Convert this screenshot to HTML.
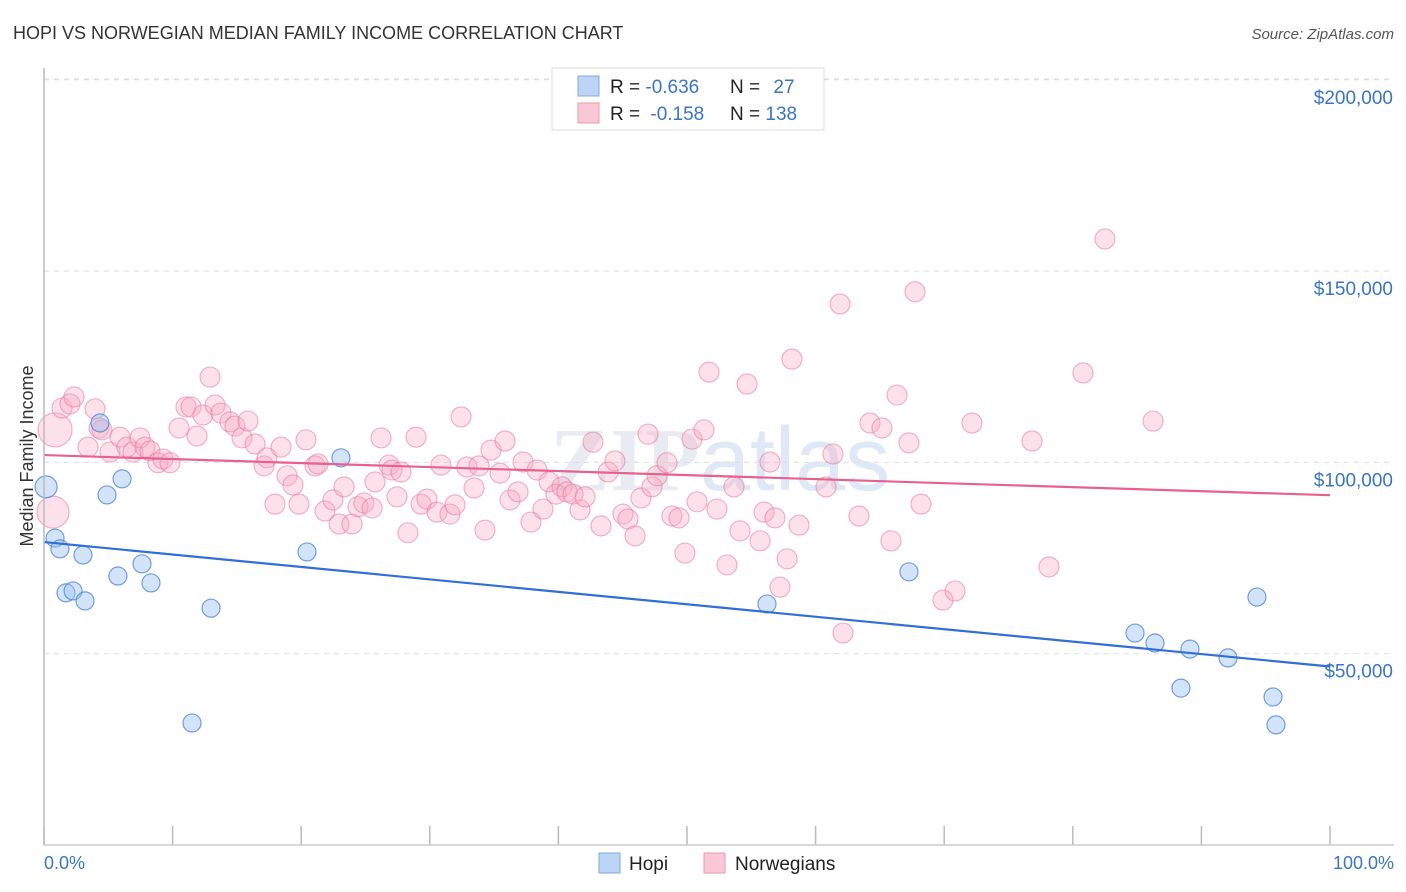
<!DOCTYPE html>
<html><head><meta charset="utf-8"><style>
body{margin:0;background:#fff;font-family:"Liberation Sans",sans-serif;}
#wrap{position:relative;width:1406px;height:892px;overflow:hidden;}
</style></head><body>
<div id="wrap">
<svg id="chart" width="1406" height="892">
<text x="13" y="39" font-size="18" fill="#333">HOPI VS NORWEGIAN MEDIAN FAMILY INCOME CORRELATION CHART</text>
<text x="1394" y="39" font-size="15" fill="#555" text-anchor="end" font-style="italic">Source: ZipAtlas.com</text>
<text x="33" y="456" font-size="18" fill="#333" text-anchor="middle" transform="rotate(-90 33 456)">Median Family Income</text>
<text x="720" y="490" font-size="90" fill="#e8ecf2" text-anchor="middle" font-family="Liberation Serif" font-weight="bold">ZIP<tspan fill="#dfe8f6" font-family="Liberation Sans" font-weight="normal">atlas</tspan></text>
<g id="grid"></g><g id="marks"></g>
<line x1="44" y1="68" x2="44" y2="845" stroke="#bbb" stroke-width="1.5"/>
<line x1="44" y1="845" x2="1394" y2="845" stroke="#ccc" stroke-width="1.5"/>
<text x="44" y="869" font-size="18" fill="#3a75c4">0.0%</text>
<text x="1394" y="869" font-size="18" fill="#3a75c4" text-anchor="end">100.0%</text>
<g>
<rect x="552" y="68" width="272" height="62" fill="#fff" stroke="#ddd"/>
<rect x="578" y="76" width="21" height="20" fill="#bcd5f5" stroke="#7fa9e0"/>
<rect x="578" y="103" width="21" height="20" fill="#f9c7d6" stroke="#ee97b1"/>
<text x="610" y="93" font-size="19" fill="#222">R = <tspan fill="#3a75c4">-0.636</tspan></text>
<text x="730" y="93" font-size="19" fill="#222">N = <tspan fill="#3a75c4" dx="8">27</tspan></text>
<text x="610" y="120" font-size="19" fill="#222">R = <tspan fill="#3a75c4" dx="5">-0.158</tspan></text>
<text x="730" y="120" font-size="19" fill="#222">N = <tspan fill="#3a75c4">138</tspan></text>
</g>
<g>
<rect x="599" y="853" width="21" height="20" fill="#bcd5f5" stroke="#7fa9e0"/>
<text x="629" y="870" font-size="19" fill="#222">Hopi</text>
<rect x="704" y="853" width="21" height="20" fill="#f9c7d6" stroke="#ee97b1"/>
<text x="735" y="870" font-size="19" fill="#222">Norwegians</text>
</g>
</svg></div>
<script>
const yTicks=[50000,100000,150000,200000];
const yTickLabels=["$50,000","$100,000","$150,000","$200,000"];
const xTicks=[0,10,20,30,40,50,60,70,80,90,100];
const hopiX=[0.16,0.86,1.24,3.03,1.71,2.26,3.19,4.35,4.9,6.07,5.75,7.62,8.32,12.99,11.51,20.45,23.09,56.22,67.26,84.84,86.39,89.11,92.07,88.41,94.32,95.57,95.8];
const hopiY=[93.6,80.2,77.4,75.8,65.9,66.4,63.8,110.3,91.5,95.7,70.3,73.5,68.5,61.9,31.9,76.6,101.2,63.0,71.4,55.4,52.8,51.2,48.9,41.0,64.8,38.7,31.4];
const norX=[0.86,0.70,1.40,2.02,2.33,3.97,3.42,4.28,4.51,5.13,5.91,6.45,6.92,7.47,7.85,8.24,8.86,9.25,9.80,10.50,11.04,11.43,11.90,12.36,12.91,13.30,13.76,14.46,14.85,15.40,15.86,16.41,17.11,17.34,17.96,18.43,18.90,19.36,19.83,20.37,21.07,21.31,21.85,22.47,22.94,23.33,23.95,24.42,24.88,25.51,25.74,26.21,26.83,27.06,27.45,27.76,28.30,28.93,29.32,29.78,30.56,30.87,31.57,31.96,32.43,32.89,33.44,33.83,34.29,34.76,35.46,35.85,36.24,36.86,37.25,37.87,38.34,38.80,39.27,39.81,40.28,40.67,41.14,41.68,42.07,42.69,43.31,43.86,44.40,45.02,45.41,45.96,46.42,46.97,47.28,47.67,48.44,48.83,49.38,49.84,50.39,50.78,51.32,51.71,52.33,53.11,53.65,54.12,54.67,55.68,55.99,56.45,56.84,57.23,57.78,58.16,58.71,61.35,60.81,61.90,62.13,63.37,64.23,65.16,65.86,66.33,67.26,68.20,67.73,69.91,70.84,72.16,76.83,78.15,80.79,82.50,86.24];
const norY=[108.5,87.0,114.2,115.3,117.1,114.0,104.0,109.0,108.5,102.7,106.6,104.0,102.7,106.4,104.0,103.0,99.9,100.9,99.9,109.0,114.5,114.5,106.9,112.4,122.3,115.0,112.9,110.6,109.5,106.4,110.8,104.8,99.1,101.2,89.1,104.0,96.5,94.1,89.1,105.9,99.1,99.6,87.3,90.2,83.9,93.6,83.9,88.4,89.4,88.1,94.9,106.4,99.3,98.0,91.0,97.5,81.6,106.6,89.1,90.4,87.0,99.3,86.5,88.9,111.9,98.8,93.3,99.1,82.3,103.2,97.2,105.6,90.2,92.3,100.1,84.4,98.0,87.8,94.9,91.7,93.6,92.3,91.7,87.6,91.0,105.3,83.4,97.5,100.4,86.5,85.2,80.8,90.7,107.4,93.6,96.5,99.9,86.0,85.5,76.3,106.1,89.7,108.5,123.6,87.8,73.2,93.6,82.1,120.5,79.5,87.0,100.1,85.5,67.4,74.8,127.0,83.6,102.2,93.6,141.4,55.4,86.0,110.3,109.0,79.5,117.6,105.1,89.1,144.6,64.0,66.4,110.3,105.6,72.7,123.4,158.4,110.8];
const norSize=[17,16];
const NS="http://www.w3.org/2000/svg";
const xs=v=>44+v*12.86;
const ys=v=>845-v*1000/50000*191.3;
const grid=document.getElementById('grid'),marks=document.getElementById('marks');
function mk(t,a,p){const e=document.createElementNS(NS,t);for(const k in a)e.setAttribute(k,a[k]);p.appendChild(e);return e;}
yTicks.forEach((t,i)=>{
 const l=mk('line',{x1:44,x2:1394,y1:ys(t/1000),y2:ys(t/1000),stroke:'#ddd','stroke-dasharray':'5,5'},grid);
 
 
 const tx=mk('text',{x:1393,y:ys(t/1000)+24,'font-size':19,fill:'#3a75c4','text-anchor':'end'},grid);
 tx.textContent=yTickLabels[i];
 
 
});
mk('line',{x1:44,x2:1394,y1:79,y2:79,stroke:'#ddd','stroke-dasharray':'5,5'},grid);
xTicks.forEach(t=>{
 const l=mk('line',{x1:xs(t),x2:xs(t),y1:826,y2:845,stroke:'#bbb','stroke-width':1.5},grid);
 
 
});
function reg(X,Y){const n=X.length;let mx=0,my=0;for(let i=0;i<n;i++){mx+=X[i];my+=Y[i];}mx/=n;my/=n;let sxy=0,sxx=0;for(let i=0;i<n;i++){sxy+=(X[i]-mx)*(Y[i]-my);sxx+=(X[i]-mx)**2;}const b=sxy/sxx;return [my-b*mx,b];}
norX.forEach((x,i)=>{
 const r=norSize[i]||10;
 const c=mk('circle',{cx:xs(x),cy:ys(norY[i]),r:r,fill:'rgba(246,170,194,0.35)',stroke:'rgba(232,120,156,0.55)','stroke-width':1.2},marks);
 
 
});
hopiX.forEach((x,i)=>{
 const c=mk('circle',{cx:xs(x),cy:ys(hopiY[i]),r:i===0?11:9,fill:'rgba(160,195,240,0.45)',stroke:'rgba(70,130,215,0.75)','stroke-width':1.2},marks);
 
 
});
[[hopiX,hopiY,'#2f6fd6','hopi-trend-line'],[norX,norY,'#e8618c','norwegians-trend-line']].forEach(s=>{
 const [a,b]=reg(s[0],s[1]);
 const l=mk('line',{x1:xs(0),y1:ys(a),x2:xs(100),y2:ys(a+b*100),stroke:s[2],'stroke-width':2.2},marks);
 
 
});
</script>
</body></html>
